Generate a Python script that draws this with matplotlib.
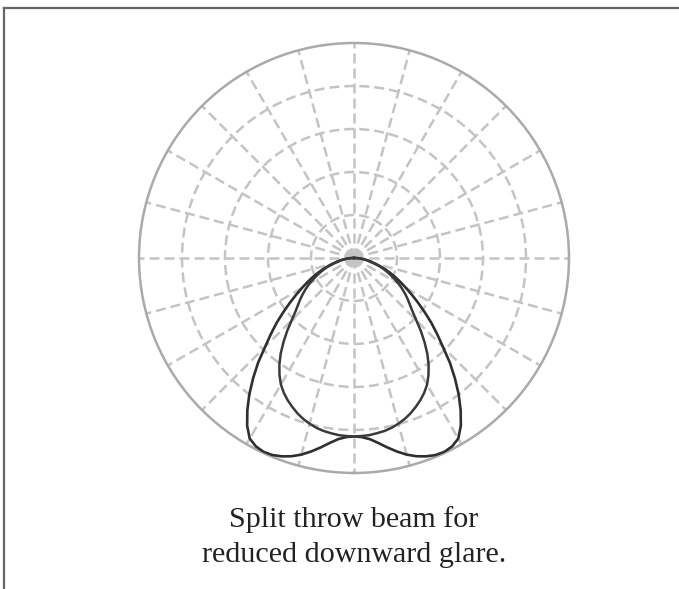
import matplotlib
matplotlib.use("Agg")
import matplotlib.pyplot as plt
import numpy as np

# angle from nadir (deg) and relative intensity (one half, mirrored)
angles = [0, 2.5, 5, 7.5, 10, 12.5, 15, 17.5, 20, 22.5, 25, 27.5, 30, 32.5, 35, 37.5,
          40, 42.5, 45, 47.5, 50, 52.5, 55, 57.5, 60, 62.5, 65, 67.5, 70, 72.5, 75,
          77.5, 80, 82.5, 85, 87.5, 90]
outer_beam = [0.83, 0.834, 0.846, 0.868, 0.895, 0.922, 0.947, 0.967, 0.982, 0.992, 0.995,
              0.988, 0.97, 0.925, 0.865, 0.80, 0.73, 0.66, 0.585, 0.525, 0.47, 0.415,
              0.365, 0.32, 0.28, 0.245, 0.213, 0.183, 0.155, 0.127, 0.10, 0.082, 0.065,
              0.048, 0.032, 0.016, 0.0]
inner_beam = [0.83, 0.829, 0.827, 0.822, 0.817, 0.809, 0.798, 0.785, 0.769, 0.75, 0.73,
              0.707, 0.68, 0.645, 0.605, 0.56, 0.51, 0.46, 0.41, 0.37, 0.34, 0.315,
              0.29, 0.265, 0.24, 0.213, 0.188, 0.165, 0.143, 0.12, 0.097, 0.08, 0.062,
              0.046, 0.03, 0.015, 0.0]
ring_levels = [0.2, 0.4, 0.6, 0.8]
caption = "Split throw beam for\nreduced downward glare."


def mirror(vals):
    vals = list(vals)
    return vals[:0:-1] + vals


theta = np.deg2rad(np.array([-a for a in angles[:0:-1]] + angles))

fig = plt.figure(figsize=(6.79, 5.89), dpi=100)
ax = fig.add_axes([0.2047, 0.197, 0.6333, 0.730], projection="polar")
ax.set_theta_zero_location("S")
ax.set_ylim(0, 1)

ax.set_thetagrids(np.arange(0, 360, 15), labels=[])
ax.set_rgrids(ring_levels, labels=[])
ax.grid(True, color="#c4c4c4", linewidth=1.8, linestyle=(0, (4.0, 2.0)))
ax.spines["polar"].set_color("#aaaaaa")
ax.spines["polar"].set_linewidth(1.8)
ax.tick_params(length=0)

ax.plot(theta, mirror(outer_beam), color="#2f2f2f", linewidth=1.9, zorder=5)
ax.plot(theta, mirror(inner_beam), color="#3a3a3a", linewidth=1.8, zorder=5)

fig.text(0.521, 0.088, caption, ha="center", va="center", fontsize=21.6,
         family="Liberation Serif", color="#222222", linespacing=1.45)

# frame lines on the top and left edges
fig.add_artist(plt.Line2D([0.0052, 1.0], [0.987, 0.987], color="#666666", linewidth=1.6,
                          transform=fig.transFigure))
fig.add_artist(plt.Line2D([0.0052, 0.0052], [0.0, 0.987], color="#666666", linewidth=1.6,
                          transform=fig.transFigure))

fig.savefig("out.png", dpi=100)
